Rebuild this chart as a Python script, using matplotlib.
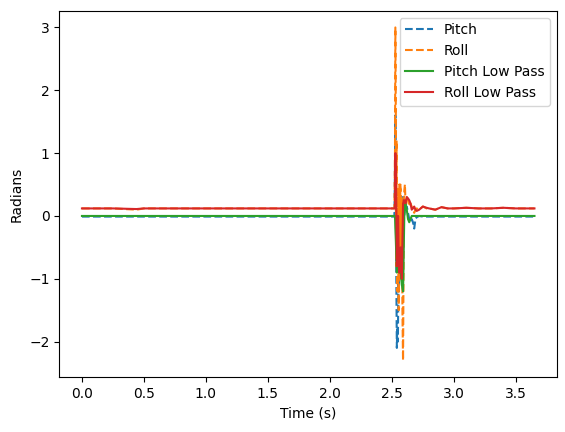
import matplotlib
matplotlib.use("Agg")
import matplotlib.pyplot as plt

# Time stamps (s)
time = [0.0, 0.25, 0.44, 0.5, 0.75, 1.0, 1.25, 1.5, 1.75, 2.0, 2.25, 2.5, 2.52,
        2.525, 2.528, 2.532, 2.535, 2.538, 2.54, 2.543, 2.545, 2.548, 2.55, 2.553,
        2.555, 2.558, 2.56, 2.563, 2.565, 2.568, 2.57, 2.573, 2.575, 2.578, 2.58,
        2.583, 2.585, 2.588, 2.59, 2.593, 2.595, 2.60, 2.605, 2.61, 2.62, 2.63,
        2.64, 2.65, 2.66, 2.67, 2.68, 2.69, 2.70, 2.72, 2.75, 2.78, 2.8, 2.85,
        2.9, 2.95, 3.0, 3.1, 3.2, 3.3, 3.4, 3.5, 3.65]

pitch = [-0.01, -0.01, -0.01, -0.01, -0.01, -0.01, -0.01, -0.01, -0.01, -0.01, -0.01, -0.01, -0.01,
         0.8, 1.6, 0.2, -0.8, -1.6, -2.1, -1.8, -1.9, -2.0, -1.6, -1.0,
         -1.2, -0.6, -0.3, -0.9, 0.2, -0.2, -0.5, 0.0, 0.1, 0.3, 0.3,
         0.1, 0.2, -0.1, 0.0, 0.3, 0.2, 0.0, 0.15, 0.1, 0.15, 0.05,
         -0.05, -0.1, -0.05, -0.1, -0.2, -0.05, -0.02, 0.0, -0.01, -0.01, -0.01, -0.01,
         -0.01, -0.01, -0.01, -0.01, -0.01, -0.01, -0.01, -0.01, -0.01]

roll = [0.12, 0.12, 0.1, 0.12, 0.12, 0.12, 0.12, 0.12, 0.12, 0.12, 0.12, 0.12, 0.12,
        1.0, 3.0, 1.5, -0.8, 1.2, 0.5, -0.6, -1.2, 0.2, 0.4, -0.8,
        -1.5, -0.4, 0.5, 0.0, -0.5, 0.5, 0.45, -0.3, -1.0, -0.2, 0.3,
        -0.7, -1.5, -2.0, -2.3, -1.2, -0.5, 0.4, 0.5, 0.2, 0.3, 0.25,
        0.15, 0.2, 0.15, 0.1, 0.05, 0.1, 0.12, 0.1, 0.15, 0.12, 0.12, 0.1,
        0.14, 0.12, 0.12, 0.13, 0.12, 0.12, 0.13, 0.12, 0.12]

pitch_lp = [0.0, 0.0, 0.0, 0.0, 0.0, 0.0, 0.0, 0.0, 0.0, 0.0, 0.0, 0.0, 0.0,
            0.0, -0.2, -0.4, -0.6, -0.75, -0.9, -0.8, -0.7, -0.65, -0.6, -0.7,
            -0.8, -0.85, -0.9, -0.88, -0.85, -0.82, -0.8, -0.9, -1.0, -1.05, -1.1,
            -1.12, -1.15, -1.18, -1.2, -0.9, -0.6, 0.0, 0.15, 0.2, 0.1, -0.05,
            -0.1, -0.05, 0.0, 0.0, 0.0, 0.0, 0.0, 0.0, 0.0, 0.0, 0.0, 0.0,
            0.0, 0.0, 0.0, 0.0, 0.0, 0.0, 0.0, 0.0, 0.0]

roll_lp = [0.12, 0.12, 0.11, 0.12, 0.12, 0.12, 0.12, 0.12, 0.12, 0.12, 0.12, 0.12, 0.12,
           0.12, 1.0, 0.6, 0.3, -0.3, -0.8, -0.5, -0.3, -0.1, 0.0, -0.4,
           -0.7, -0.8, -0.9, -0.7, -0.6, -0.55, -0.5, -0.65, -0.8, -0.9, -1.0,
           -0.7, -0.4, -0.1, 0.2, 0.22, 0.25, 0.25, 0.22, 0.2, 0.3, 0.28,
           0.25, 0.2, 0.1, 0.12, 0.15, 0.1, 0.08, 0.1, 0.15, 0.13, 0.12, 0.1,
           0.14, 0.12, 0.12, 0.13, 0.12, 0.12, 0.13, 0.12, 0.12]

fig = plt.figure(figsize=(5.65, 4.32), dpi=100)
ax = fig.add_axes([0.105, 0.127, 0.881, 0.848])
ax.plot(time, pitch, linestyle='--', label='Pitch')
ax.plot(time, roll, linestyle='--', label='Roll')
ax.plot(time, pitch_lp, label='Pitch Low Pass')
ax.plot(time, roll_lp, label='Roll Low Pass')
ax.set_xlabel('Time (s)')
ax.set_ylabel('Radians')
ax.legend(loc='upper right')
fig.savefig('out.png', dpi=100)
